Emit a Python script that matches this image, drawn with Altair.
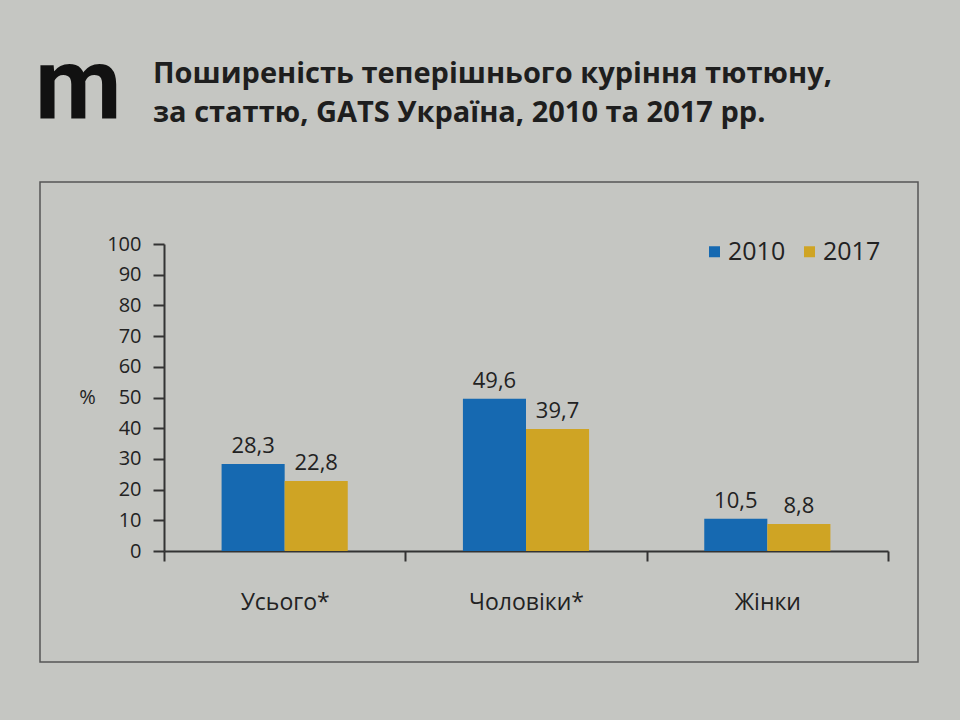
import altair as alt
import pandas as pd

categories = ["Усього*", "Чоловіки*", "Жінки"]
years = ["2010", "2017"]
values_2010 = [28.3, 49.6, 10.5]
values_2017 = [22.8, 39.7, 8.8]
colors = ["#1669b1", "#cfa424"]
title_lines = ["Поширеність теперішнього куріння тютюну,", "за статтю, GATS Україна, 2010 та 2017 рр."]

rows = []
for c, a, b in zip(categories, values_2010, values_2017):
    rows.append({"cat": c, "year": years[0], "val": a})
    rows.append({"cat": c, "year": years[1], "val": b})
df = pd.DataFrame(rows)
df["label"] = df["val"].map(lambda v: f"{v:.1f}".replace(".", ","))

FONT = "Open Sans"
INK = "#222222"
AX = "#333333"

x_enc = alt.X("cat:N", sort=categories,
              scale=alt.Scale(paddingInner=0, paddingOuter=0),
              axis=alt.Axis(title=None, tickBand="extent", labelAngle=0,
                            labelFontSize=23, labelColor=INK, labelFont=FONT,
                            labelPadding=30, tickSize=10, tickWidth=2, tickColor=AX,
                            domainColor=AX, domainWidth=2))
xo_enc = alt.XOffset("year:N", sort=years,
                     scale=alt.Scale(paddingInner=0, paddingOuter=0.913))
y_enc = alt.Y("val:Q", scale=alt.Scale(domain=[0, 100], nice=False),
              axis=alt.Axis(values=list(range(0, 101, 10)), labelOverlap=False,
                            title="%", titleAngle=0,
                            titleX=-77, titleY=153, titleAlign="center", titleBaseline="middle",
                            titleFontSize=20, titleFontWeight="normal", titleColor=INK, titleFont=FONT,
                            labelFontSize=20, labelColor=INK, labelFont=FONT, labelPadding=12,
                            tickSize=11, tickWidth=2, tickColor=AX,
                            domainColor=AX, domainWidth=2, grid=False))

base = alt.Chart(df)

bars = base.mark_bar().encode(
    x=x_enc,
    xOffset=xo_enc,
    y=y_enc,
    color=alt.Color("year:N", sort=years,
                    scale=alt.Scale(domain=years, range=colors),
                    legend=alt.Legend(title=None, orient="none", legendX=538, legendY=-5,
                                      direction="horizontal", symbolType="square",
                                      symbolSize=121, symbolStrokeWidth=0,
                                      labelFontSize=25, labelFont=FONT, labelColor=INK,
                                      columnPadding=11, labelOffset=1)),
)

labels = base.mark_text(baseline="bottom", dy=-6, fontSize=22, font=FONT, color=INK).encode(
    x=x_enc,
    xOffset=xo_enc,
    y=y_enc,
    text="label:N",
)

frame = alt.Chart(pd.DataFrame({"a": [0]})).mark_rect(
    fill=None, stroke="#555555", strokeWidth=1.5
).encode(x=alt.value(-124), x2=alt.value(754), y=alt.value(-62), y2=alt.value(418))

title = alt.Chart(pd.DataFrame({"t": [title_lines]})).mark_text(
    align="left", baseline="top", fontSize=29, fontWeight="bold", font=FONT,
    color="#1e1e1e", lineHeight=39
).encode(x=alt.value(-11), y=alt.value(-184), text="t")

logo = alt.Chart(pd.DataFrame({"t": ["m"]})).mark_text(
    align="left", baseline="alphabetic", fontSize=100, fontWeight="bold",
    font="Roboto",
    color="#111111"
).encode(x=alt.value(-129), y=alt.value(-126), text="t")

chart = alt.layer(frame, bars, labels, title, logo).properties(
    width=724, height=307,
    autosize=alt.AutoSizeParams(type="none"),
    padding={"left": 164, "top": 244, "right": 72, "bottom": 169},
    background="#c5c6c2",
).configure_view(stroke=None)

chart.save("out.html", embed_options={"renderer": "svg", "actions": False})
